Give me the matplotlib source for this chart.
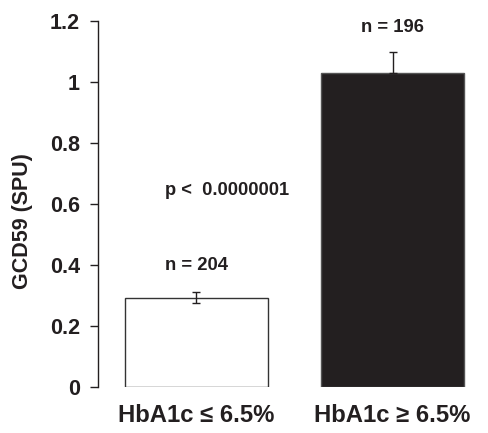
import matplotlib
matplotlib.use("Agg")
import matplotlib.pyplot as plt

plt.rcParams['font.family'] = ['Liberation Sans', 'DejaVu Sans']
plt.rcParams['font.weight'] = 'bold'

# data
groups = ['HbA1c \u2264 6.5%', 'HbA1c \u2265 6.5%']
means = [0.292, 1.03]
err_lo = [0.018, 0.0]
err_hi = [0.018, 0.068]
n_labels = ['n = 204', 'n = 196']
n_y = [0.40, 1.18]
fills = ['white', '#231f20']
p_text = 'p <  0.0000001'

ink = '#231f20'

fig = plt.figure(figsize=(4.88, 4.33), dpi=100)
ax = fig.add_axes([98 / 488, 46 / 433, 383 / 488, 366 / 433])

x = [0, 1]
ax.bar(x, means, width=0.73, color=fills, edgecolor=['#333333', '#555555'], linewidth=1.0)
ax.errorbar(x, means, yerr=[err_lo, err_hi], fmt='none', ecolor=ink,
            elinewidth=1.0, capsize=3, capthick=1.0)

for xi, lab, yi in zip(x, n_labels, n_y):
    ax.text(xi, yi, lab, ha='center', va='center', fontsize=13.3,
            fontweight='bold', color=ink)
ax.text(-0.16, 0.645, p_text, ha='left', va='center', fontsize=13.2,
        fontweight='bold', color=ink)

ax.set_xlim(-0.5, 1.45)
ax.set_ylim(0, 1.2)
ax.set_yticks([0, 0.2, 0.4, 0.6, 0.8, 1.0, 1.2])
ax.set_yticklabels(['0', '0.2', '0.4', '0.6', '0.8', '1', '1.2'])
ax.set_xticks(x)
ax.set_xticklabels(groups, fontsize=17.2, fontweight='bold', color=ink)
ax.tick_params(axis='x', length=0, pad=12)
ax.tick_params(axis='y', labelsize=15.5, colors=ink, length=6, width=1.0, pad=7)
for lab in ax.get_yticklabels():
    lab.set_fontweight('bold')

for side in ['top', 'right', 'bottom']:
    ax.spines[side].set_visible(False)
ax.spines['left'].set_color(ink)
ax.spines['left'].set_linewidth(1.0)

ax.set_ylabel('GCD59 (SPU)', fontsize=15.5, fontweight='bold', color=ink)
ax.yaxis.set_label_coords(-0.17, 0.454)

fig.savefig('out.png', dpi=100, facecolor='white')
